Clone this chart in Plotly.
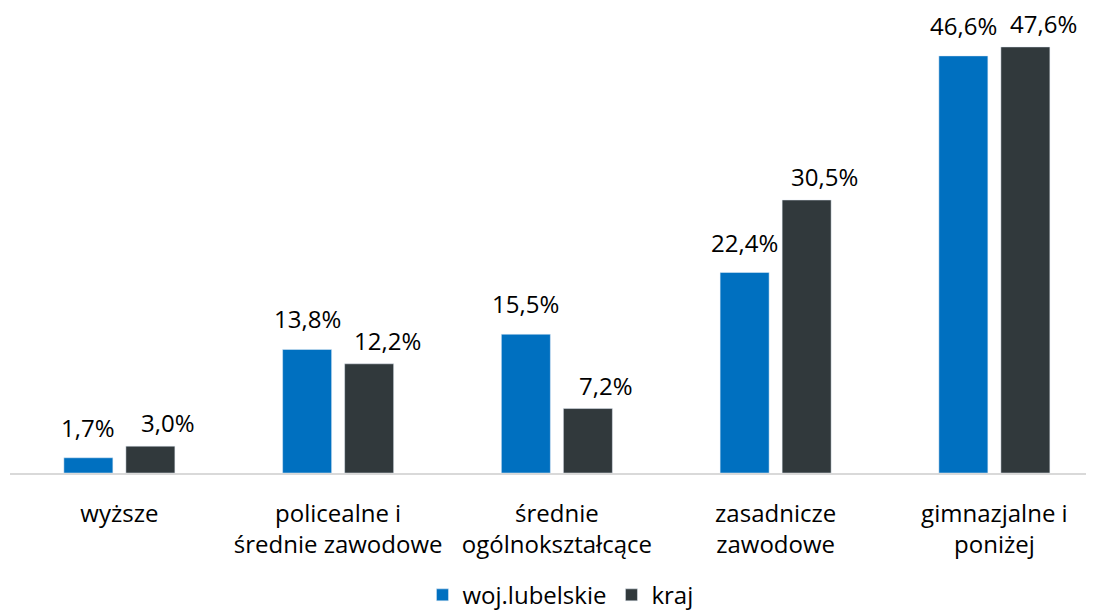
import plotly.graph_objects as go

categories = [
    "wyższe",
    "policealne i<br>średnie zawodowe",
    "średnie<br>ogólnokształcące",
    "zasadnicze<br>zawodowe",
    "gimnazjalne i<br>poniżej",
]
lubelskie = [1.7, 13.8, 15.5, 22.4, 46.6]
kraj = [3.0, 12.2, 7.2, 30.5, 47.6]

series = [
    ("woj.lubelskie", lubelskie, "#0070C0", 0, 12),
    ("kraj", kraj, "#31393C", 18, 5),
]

FONT = "Open Sans"

fig = go.Figure()
annotations = []
for i, (name, values, color, xshift, yshift) in enumerate(series):
    fig.add_trace(go.Bar(x=categories, y=values, name=name, marker_color=color))
    # value labels sit a bit higher above the bars than plotly's outside text
    offset = -31 if i == 0 else 31
    for cat, v in zip(categories, values):
        annotations.append(dict(
            x=cat, y=v, xref="x", yref="y",
            text=f"{v:.1f}%".replace(".", ","),
            showarrow=False, yanchor="bottom",
            xshift=offset + xshift, yshift=yshift,
            font=dict(family=FONT, size=24, color="#000000"),
        ))

fig.update_layout(
    width=1094,
    height=613,
    margin=dict(l=2, r=0, t=17, b=148, autoexpand=False),
    paper_bgcolor="white",
    plot_bgcolor="white",
    barmode="group",
    bargap=0.433,
    bargroupgap=0.21,
    font=dict(family=FONT, size=24, color="#000000"),
    annotations=annotations,
    legend=dict(
        orientation="h",
        x=0.505, xanchor="center", xref="container",
        y=0.042, yanchor="middle", yref="container",
        font=dict(family=FONT, size=24),
        itemwidth=30,
    ),
)
fig.update_xaxes(
    range=[-0.5, 4.492],
    showline=True, linecolor="#D9D9D9", linewidth=2,
    showgrid=False, zeroline=False,
    ticks="outside", ticklen=18, tickcolor="rgba(0,0,0,0)",
)
fig.update_yaxes(range=[0, 50.05], visible=False)

fig.write_html("out.html")
